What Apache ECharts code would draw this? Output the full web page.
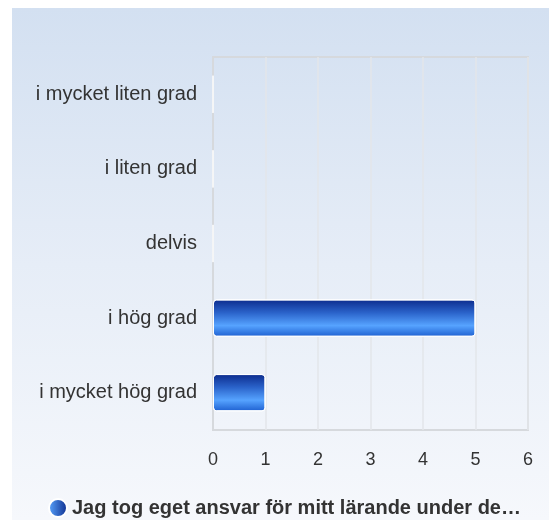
<!DOCTYPE html>
<html>
<head>
<meta charset="utf-8">
<script src="https://cdn.jsdelivr.net/npm/echarts@6/dist/echarts.min.js"></script>
<style>
    html, body { margin: 0; padding: 0; background: #fff; }
    #panel {
        position: absolute;
        left: 12px;
        top: 8px;
        width: 537px;
        height: 512px;
        background: linear-gradient(to bottom, #d3e0f1 0%, #e6edf7 50%, #f6f8fc 100%);
    }
    #chart { position: absolute; left: 0; top: 0; width: 549px; height: 520px; }
</style>
</head>
<body>
<div id="panel"></div>
<div id="chart"></div>
<script>
    // svarsalternativ, uppifrån och ned
    var categories = ['i mycket liten grad', 'i liten grad', 'delvis', 'i hög grad', 'i mycket hög grad'];
    var values = [0, 0, 0, 5, 1];
    var seriesName = 'Jag tog eget ansvar för mitt lärande under de…';
    var xTicks = [0, 1, 2, 3, 4, 5, 6];

    var chart = echarts.init(document.getElementById('chart'));

    var barGradient = new echarts.graphic.LinearGradient(0, 0, 0, 1, [
        { offset: 0, color: '#0c2b8c' },
        { offset: 0.35, color: '#2a62c9' },
        { offset: 0.7, color: '#56a3ff' },
        { offset: 1, color: '#1d5fd0' }
    ]);

    chart.setOption({
        backgroundColor: 'transparent',
        textStyle: { fontFamily: 'Liberation Sans, Arial, sans-serif' },
        grid: {
            left: 213,
            right: 21,
            top: 57,
            bottom: 90,
            show: true,
            borderColor: '#d6d9dd',
            borderWidth: 2
        },
        legend: {
            top: 493,
            left: 43,
            icon: 'circle',
            itemWidth: 18,
            itemHeight: 18,
            itemGap: 10,
            selectedMode: false,
            textStyle: { fontSize: 20, fontWeight: 'bold', color: '#333' },
            data: [{
                name: seriesName,
                itemStyle: {
                    color: new echarts.graphic.LinearGradient(0, 0, 1, 0, [
                        { offset: 0, color: '#5aa6ff' },
                        { offset: 1, color: '#0c2b8c' }
                    ])
                }
            }]
        },
        xAxis: {
            type: 'value',
            min: xTicks[0],
            max: xTicks[xTicks.length - 1],
            interval: 1,
            axisLine: { show: false },
            axisTick: { show: false },
            splitLine: { show: true, lineStyle: { color: '#e3e6ea', width: 1.5 } },
            axisLabel: { color: '#333', fontSize: 18, margin: 21 }
        },
        yAxis: {
            type: 'category',
            inverse: true,
            data: categories,
            axisLine: { show: true, lineStyle: { color: '#d6d9dd', width: 2 } },
            axisTick: { show: false },
            axisLabel: { color: '#333', fontSize: 20, margin: 16 }
        },
        series: [{
            name: seriesName,
            type: 'bar',
            barWidth: '50%',
            data: values,
            itemStyle: {
                color: barGradient,
                borderColor: '#ffffff',
                borderWidth: 1,
                borderRadius: 3
            },
            emphasis: { disabled: true }
        }]
    });
</script>
</body>
</html>
